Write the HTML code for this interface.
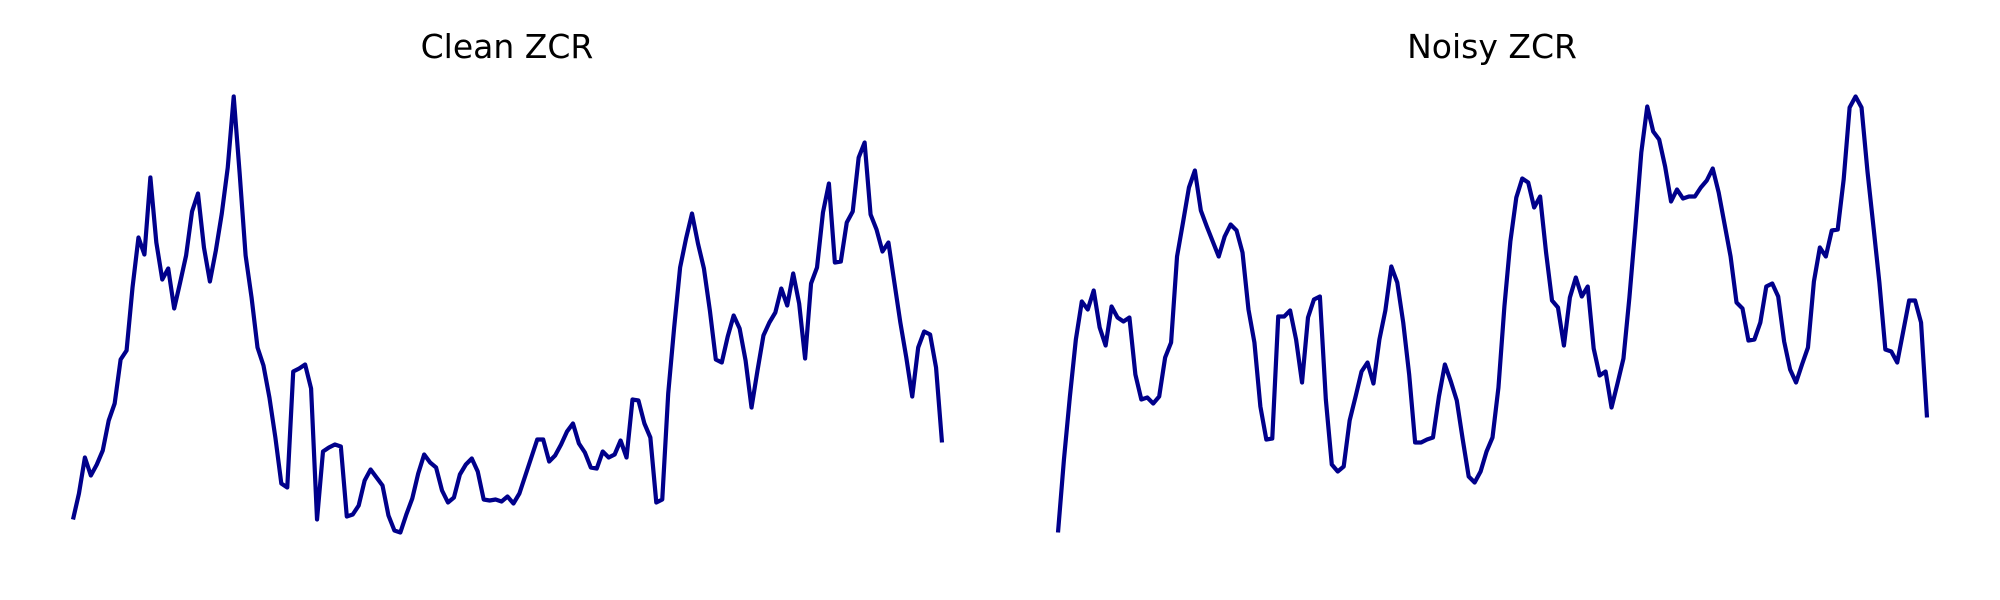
<!DOCTYPE html>
<html>
<head>
<meta charset="utf-8">
<style>
  html, body { margin: 0; padding: 0; background: #ffffff; }
  svg { display: block; }
  .title { font-family: "DejaVu Sans", "Liberation Sans", sans-serif; font-size: 33px; fill: #000; }
</style>
</head>
<body>
<svg id="chart" width="2000" height="600" viewBox="0 0 2000 600" xmlns="http://www.w3.org/2000/svg">
  <rect x="0" y="0" width="2000" height="600" fill="#ffffff"/>
  <text class="title" x="507" y="58" text-anchor="middle">Clean ZCR</text>
  <text class="title" x="1492" y="58" text-anchor="middle">Noisy ZCR</text>
  <g id="clean-panel"></g>
  <g id="noisy-panel"></g>
</svg>
<script>
// ZCR values (x1000) per frame
const cleanZcr = [41,67,103,85,96,110,140,157,201,210,273,323,306,383,318,281,292,252,278,305,349,367,313,279,310,347,393,464,387,305,263,213,195,163,123,77,73,189,192,196,172,41,109,113,116,114,44,46,55,80,91,83,75,45,30,28,46,62,87,106,98,93,70,58,63,86,96,102,89,61,60,61,59,64,57,67,85,103,121,121,99,105,116,129,137,117,108,93,92,109,103,106,120,103,161,160,137,123,58,61,167,233,293,322,347,317,292,250,201,198,224,245,232,200,153,190,225,238,248,272,255,287,257,202,277,293,348,377,298,299,338,349,403,418,346,331,309,318,278,238,203,164,213,229,226,193,118];
const noisyZcr = [27,100,163,220,258,250,269,232,214,253,242,238,242,185,160,162,156,163,202,217,303,337,372,389,349,333,318,303,323,335,329,307,250,217,153,120,121,243,243,249,220,177,242,260,263,160,95,88,93,139,163,188,197,176,220,249,293,277,237,185,117,117,120,122,163,195,178,159,120,83,77,88,108,122,172,253,318,362,381,377,352,363,307,259,252,214,262,282,263,273,211,184,188,152,176,201,262,332,407,453,428,420,393,358,370,361,363,363,372,379,391,367,335,303,257,251,219,220,237,273,276,263,218,190,177,195,212,278,312,303,329,330,380,452,463,452,388,333,277,210,208,197,228,259,259,237,142];

const SVGNS = "http://www.w3.org/2000/svg";

function drawPanel(groupId, values, x0, x1, name) {
  const g = document.getElementById(groupId);
  const n = values.length;
  const vmin = Math.min(...values), vmax = Math.max(...values);
  const yBottom = 532.5, yTop = 96.5;
  const xScale = i => x0 + i * (x1 - x0) / (n - 1);
  const yScale = v => yBottom - (v - vmin) / (vmax - vmin) * (yBottom - yTop);
  const pts = values.map((v, i) => xScale(i).toFixed(2) + "," + yScale(v).toFixed(2)).join(" ");
  const line = document.createElementNS(SVGNS, "polyline");
  line.setAttribute("points", pts);
  line.setAttribute("fill", "none");
  line.setAttribute("stroke", "#00008b");
  line.setAttribute("stroke-width", "4.2");
  line.setAttribute("stroke-linejoin", "round");
  line.setAttribute("stroke-linecap", "butt");
  
  
  g.appendChild(line);
}

drawPanel("clean-panel", cleanZcr, 73, 942, "clean-zcr-line");
drawPanel("noisy-panel", noisyZcr, 1058, 1927, "noisy-zcr-line");
</script>
</body>
</html>
